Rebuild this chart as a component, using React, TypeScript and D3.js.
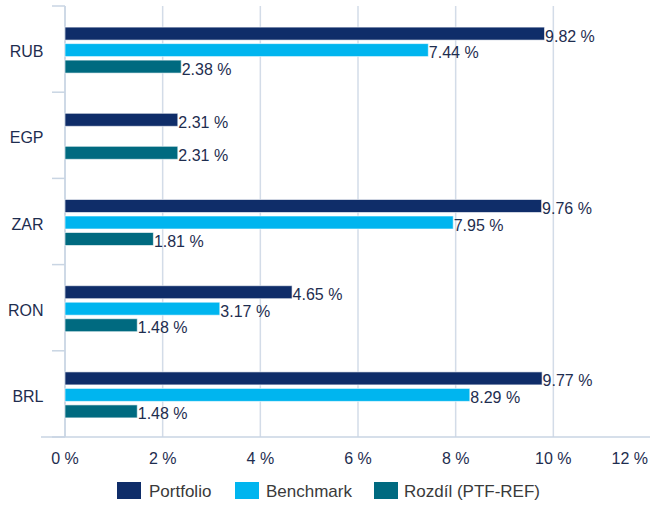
import React from "react";
import * as d3 from "d3";

const categories = ["RUB", "EGP", "ZAR", "RON", "BRL"];
const seriesNames = ["Portfolio", "Benchmark", "Rozdíl (PTF-REF)"];
const portfolio = [9.82, 2.31, 9.76, 4.65, 9.77];
const benchmark: (number | null)[] = [7.44, null, 7.95, 3.17, 8.29];
const rozdil = [2.38, 2.31, 1.81, 1.48, 1.48];
const xTicks = [0, 2, 4, 6, 8, 10, 12];
const colors = ["#0f2d69", "#00b5ef", "#006a80"];

const W = 650, H = 505;
const left = 65, right = 651, top = 6, bottom = 437;
const textColor = "#1e2d4f";
const font = "'Liberation Sans', Arial, sans-serif";

export default function App() {
  const x = d3.scaleLinear().domain([0, 12]).range([left, right]);
  const y = d3.scaleBand().domain(categories).range([top, bottom]);
  const step = 16.5;
  const bh = 13;
  const inner = (si: number) => (y.bandwidth() / 2 + 1) + (si - 1) * step - bh / 2;
  const series = [portfolio, benchmark, rozdil];
  const bounds = [...categories.map((c) => y(c) as number), bottom];
  const legendItems = [
    { sx: 117, tx: 149 },
    { sx: 235, tx: 266 },
    { sx: 374, tx: 404 },
  ];
  return (
    <svg width={W} height={H} style={{ position: "absolute", left: 0, top: 0 }} fontFamily={font}>
      {xTicks.map((t) => (
        <line key={"g" + t} x1={x(t)} x2={x(t)} y1={top} y2={bottom} stroke="#d3dce8" strokeWidth={1.5} />
      ))}
      <line x1={left} x2={left} y1={top} y2={bottom} stroke="#c9d5e3" strokeWidth={1.5} />
      {bounds.map((b, i) => (
        <line key={"t" + i} x1={52} x2={left} y1={b} y2={b} stroke="#c9d5e3" strokeWidth={1.5} />
      ))}
      <line x1={41} x2={W} y1={bottom} y2={bottom} stroke="#c9d5e3" strokeWidth={1.5} />
      {categories.map((c, ci) => (
        <g key={c}>
          <text x={43.5} y={(y(c) as number) + y.bandwidth() / 2 + 8} textAnchor="end" fontSize={16} fill={textColor}>{c}</text>
          {series.map((s, si) => {
            const v = s[ci];
            if (v == null) return null;
            const by = (y(c) as number) + inner(si);
            return (
              <g key={si}>
                <rect x={x(0)} y={by} width={x(v) - x(0)} height={bh} fill={colors[si]} stroke="#ffffff" strokeOpacity={0.6} strokeWidth={1} />
                <text x={x(v) + 0.5} y={by + bh + 1.5} fontSize={16} fill={textColor}>{v.toFixed(2) + " %"}</text>
              </g>
            );
          })}
        </g>
      ))}
      {xTicks.map((t, i) => {
        const last = i === xTicks.length - 1;
        return (
          <text key={"l" + t} x={last ? 648 : x(t)} y={464} textAnchor={last ? "end" : "middle"} fontSize={16} fill={textColor}>{t + " %"}</text>
        );
      })}
      {legendItems.map((l, i) => (
        <g key={"lg" + i}>
          <rect x={l.sx} y={482} width={24} height={17} fill={colors[i]} />
          <text x={l.tx} y={497} fontSize={17} fill="#3a3a3a">{seriesNames[i]}</text>
        </g>
      ))}
    </svg>
  );
}
